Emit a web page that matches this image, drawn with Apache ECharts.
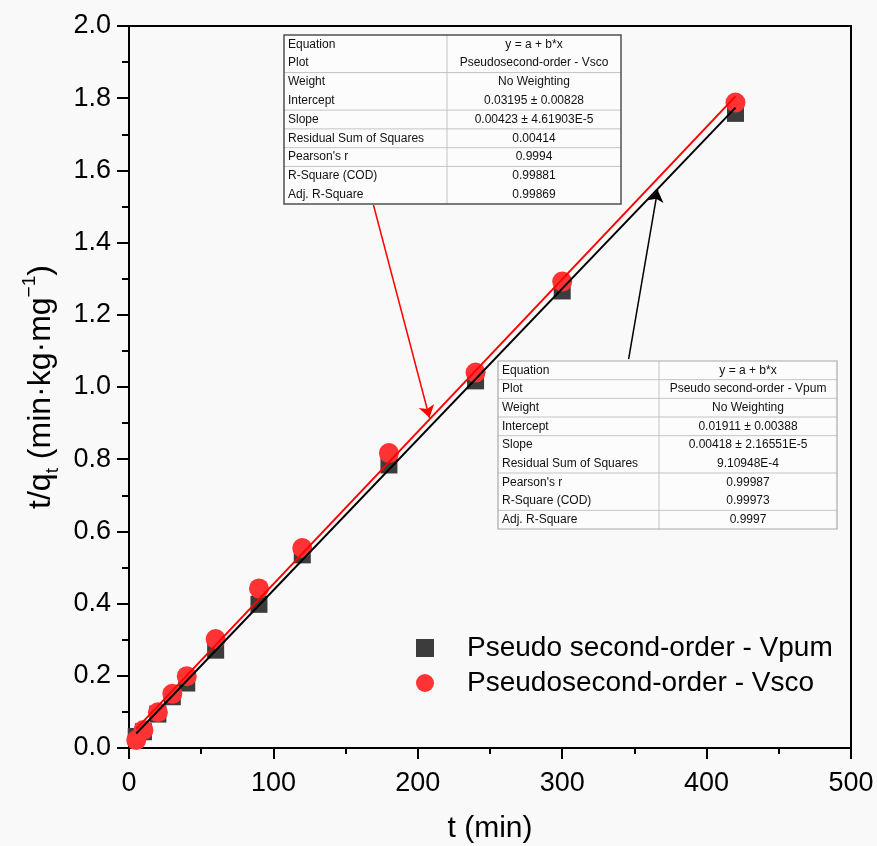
<!DOCTYPE html>
<html><head><meta charset="utf-8">
<script src="https://cdn.jsdelivr.net/npm/echarts@6/dist/echarts.min.js"></script>
<style>html,body{margin:0;padding:0;background:#f9f9f9}#c{width:877px;height:846px}</style>
</head><body><div id="c"></div>
<script>
// ---- data ----
const timeVpum = [5, 10, 20, 30, 40, 60, 90, 120, 180, 240, 300, 420];
const valuesVpum = [0.032, 0.045, 0.094, 0.142, 0.180, 0.271, 0.398, 0.535, 0.784, 1.017, 1.266, 1.758];
const timeVsco = [5, 10, 20, 30, 40, 60, 90, 120, 180, 240, 300, 420];
const valuesVsco = [0.022, 0.050, 0.099, 0.150, 0.199, 0.302, 0.442, 0.554, 0.817, 1.040, 1.292, 1.788];
const fitVpumT = [5, 420];
const fitVpumY = [0.040, 1.774];
const fitVscoT = [5, 420];
const fitVscoY = [0.053, 1.805];
const arrowVscoT = [169.3, 208.1];
const arrowVscoY = [1.504, 0.915];
const arrowVpumT = [346.0, 366.1];
const arrowVpumY = [1.077, 1.546];
const seriesNames = ['Pseudo second-order - Vpum', 'Pseudosecond-order - Vsco'];
const tableLabels = ['Equation', 'Plot', 'Weight', 'Intercept', 'Slope', 'Residual Sum of Squares', "Pearson's r", 'R-Square (COD)', 'Adj. R-Square'];
const tableVscoValues = ['y = a + b*x', 'Pseudosecond-order - Vsco', 'No Weighting', '0.03195 ± 0.00828', '0.00423 ± 4.61903E-5', '0.00414', '0.9994', '0.99881', '0.99869'];
const tableVpumValues = ['y = a + b*x', 'Pseudo second-order - Vpum', 'No Weighting', '0.01911 ± 0.00388', '0.00418 ± 2.16551E-5', '9.10948E-4', '0.99987', '0.99973', '0.9997'];
const tableVscoSeparators = [2, 4, 5, 6, 7];
const tableVpumSeparators = [1, 2, 3, 4, 6, 8];

const FONT = '"Liberation Sans", Arial, Helvetica, sans-serif';

function pairs(xs, ys) { return xs.map((x, i) => [x, ys[i]]); }

function buildTable(x, y, w, h, divX, labels, values, seps, borderColor, borderWidth) {
  const n = labels.length;
  const rh = h / n;
  const els = [];
  els.push({ type: 'rect', shape: { x: x, y: y, width: w, height: h }, style: { fill: '#fcfcfc', stroke: null }, z: 10 });
  seps.forEach(function (k) {
    els.push({ type: 'line', shape: { x1: x, y1: y + k * rh, x2: x + w, y2: y + k * rh }, style: { stroke: '#c4c4c4', lineWidth: 1 }, z: 11 });
  });
  els.push({ type: 'line', shape: { x1: divX, y1: y, x2: divX, y2: y + h }, style: { stroke: '#c4c4c4', lineWidth: 1 }, z: 11 });
  els.push({ type: 'rect', shape: { x: x, y: y, width: w, height: h }, style: { fill: null, stroke: borderColor, lineWidth: borderWidth }, z: 12 });
  for (let i = 0; i < n; i++) {
    const cy = y + (i + 0.5) * rh;
    els.push({ type: 'text', x: x + 4, y: cy, style: { text: labels[i], font: '12px ' + FONT, fill: '#111', textAlign: 'left', textVerticalAlign: 'middle' }, z: 13 });
    els.push({ type: 'text', x: (divX + x + w) / 2, y: cy, style: { text: values[i], font: '12px ' + FONT, fill: '#111', textAlign: 'center', textVerticalAlign: 'middle' }, z: 13 });
  }
  return els;
}

const chart = echarts.init(document.getElementById('c'), null, { renderer: 'canvas' });

const option = {
  animation: false,
  backgroundColor: '#f9f9f9',
  textStyle: { fontFamily: FONT },
  grid: { left: 129, right: 26, top: 26, bottom: 98, outerBoundsMode: 'none', containLabel: false, show: true, borderColor: '#000', borderWidth: 2, backgroundColor: 'transparent' },
  legend: {
    orient: 'vertical',
    left: 411, top: 629,
    itemWidth: 18, itemHeight: 18,
    itemGap: 7,
    selectedMode: false,
    data: [{ name: seriesNames[0], icon: 'rect' }, { name: seriesNames[1], icon: 'circle' }],
    textStyle: { fontSize: 28, color: '#000', fontFamily: FONT, padding: [0, 0, 0, 28], lineHeight: 28 }
  },
  xAxis: {
    type: 'value', min: 0, max: 500, interval: 100,
    name: 't (min)', nameLocation: 'middle', nameGap: 66,
    nameTextStyle: { fontSize: 30, color: '#000', fontFamily: FONT },
    axisLine: { onZero: false, lineStyle: { color: '#000', width: 2 } },
    axisTick: { inside: false, length: 11, lineStyle: { width: 2, color: '#000' } },
    minorTick: { show: true, splitNumber: 2, length: 6, lineStyle: { width: 2, color: '#000' } },
    axisLabel: { fontSize: 27, color: '#000', margin: 22, fontFamily: FONT },
    splitLine: { show: false }
  },
  yAxis: {
    type: 'value', min: 0, max: 2, interval: 0.2,
    name: '{a|t/q}{sub|t}{a| (min·kg·mg}{sup|−1}{a|)}',
    nameLocation: 'middle', nameGap: 60, nameRotate: 90,
    nameTextStyle: {
      color: '#000', fontFamily: FONT,
      rich: {
        a: { fontSize: 32, lineHeight: 42, verticalAlign: 'middle', fontFamily: FONT, color: '#000' },
        sub: { fontSize: 19, lineHeight: 42, verticalAlign: 'bottom', fontFamily: FONT, color: '#000' },
        sup: { fontSize: 19, lineHeight: 42, verticalAlign: 'top', fontFamily: FONT, color: '#000' }
      }
    },
    axisLine: { onZero: false, lineStyle: { color: '#000', width: 2 } },
    axisTick: { inside: false, length: 12, lineStyle: { width: 2, color: '#000' } },
    minorTick: { show: true, splitNumber: 2, length: 7, lineStyle: { width: 2, color: '#000' } },
    axisLabel: { fontSize: 27, color: '#000', margin: 18, fontFamily: FONT, formatter: function (v) { return v.toFixed(1); } },
    splitLine: { show: false }
  },
  series: [
    {
      name: seriesNames[0], type: 'scatter', symbol: 'rect', symbolSize: 17,
      itemStyle: { color: '#3c3c3c', opacity: 1 },
      data: pairs(timeVpum, valuesVpum), z: 2
    },
    {
      name: seriesNames[1], type: 'scatter', symbol: 'circle', symbolSize: 20,
      itemStyle: { color: '#ff3333', opacity: 1 },
      data: pairs(timeVsco, valuesVsco), z: 3
    },
    {
      name: 'fitVsco', type: 'line', showSymbol: false, symbol: 'none',
      lineStyle: { color: '#ff0000', width: 2 }, data: pairs(fitVscoT, fitVscoY), z: 4, silent: true,
      markLine: {
        silent: true, symbol: ['none', 'arrow'], symbolSize: 12,
        label: { show: false },
        lineStyle: { color: '#ff0000', width: 1.5, type: 'solid' },
        data: [[{ coord: [arrowVscoT[0], arrowVscoY[0]] }, { coord: [arrowVscoT[1], arrowVscoY[1]] }]]
      }
    },
    {
      name: 'fitVpum', type: 'line', showSymbol: false, symbol: 'none',
      lineStyle: { color: '#000000', width: 2 }, data: pairs(fitVpumT, fitVpumY), z: 5, silent: true,
      markLine: {
        silent: true, symbol: ['none', 'arrow'], symbolSize: 12,
        label: { show: false },
        lineStyle: { color: '#000000', width: 1.5, type: 'solid' },
        data: [[{ coord: [arrowVpumT[0], arrowVpumY[0]] }, { coord: [arrowVpumT[1], arrowVpumY[1]] }]]
      }
    }
  ],
  graphic: [].concat(
    buildTable(284, 35, 337, 169, 447, tableLabels, tableVscoValues, tableVscoSeparators, '#505050', 1.5),
    buildTable(498, 361, 339, 168, 659, tableLabels, tableVpumValues, tableVpumSeparators, '#a8a8a8', 1.2)
  )
};
chart.setOption(option);
</script>
</body></html>
